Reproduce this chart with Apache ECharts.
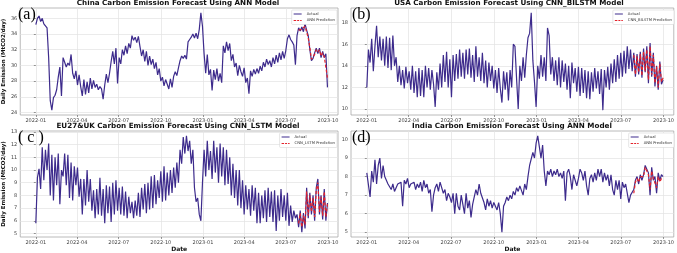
<!DOCTYPE html>
<html>
<head>
<meta charset="utf-8">
<style>
  html, body { margin: 0; padding: 0; background: #fff; }
  #chart { width: 677px; height: 253px; }
</style>
<script src="https://cdn.jsdelivr.net/npm/echarts@6.0.0/dist/echarts.min.js"></script>
</head>
<body>
<div id="chart"></div>
<script>
// daily series, one value every 3.5 days from 2022-01-01
const START = Date.UTC(2022, 0, 1);
const STEP_DAYS = 3.5;
const DAY = 86400000;
const predStart = 164; // index where the forecast begins (end of July 2023)

const tickLabels = ["2022-01", "2022-04", "2022-07", "2022-10", "2023-01", "2023-04", "2023-07", "2023-10"];

const chinaActual = [
  35.2, 36.0, 36.3, 35.6, 36.0, 35.3, 35.1, 34.8, 31.0, 25.5,
  24.3, 25.9, 26.2, 26.9, 28.5, 29.8, 26.1, 31.0, 30.4, 29.8,
  30.3, 30.0, 31.4, 29.0, 28.3, 29.3, 27.5, 28.8, 27.3, 26.1,
  28.2, 26.3, 27.9, 26.5, 28.4, 27.0, 28.1, 27.2, 27.6, 26.9,
  27.3, 27.0, 25.7, 27.5, 28.9, 27.8, 29.0, 30.5, 31.8, 30.2,
  32.2, 27.7, 31.0, 30.2, 32.0, 31.3, 32.5, 31.5, 32.8, 32.2,
  33.8, 33.2, 33.6, 32.9, 33.7, 32.4, 31.2, 32.0, 30.5, 31.8,
  30.0, 31.2, 30.1, 30.8, 29.6, 30.4, 28.8, 29.6, 28.0, 28.5,
  27.4, 28.2, 27.6, 27.0, 28.3, 27.2, 28.6, 29.2, 28.7, 29.7,
  30.6, 31.2, 30.9, 31.3, 30.8, 33.0, 33.3, 33.6, 34.0, 33.5,
  34.1, 33.4, 34.6, 36.7, 35.0, 31.5, 29.0, 31.4, 28.8, 29.5,
  26.8, 29.4, 28.2, 29.6, 28.0, 29.0, 27.8, 32.5, 31.6, 33.0,
  31.9, 32.8, 30.6, 31.4, 29.8, 30.3, 28.7, 30.0, 29.2, 28.6,
  29.7, 27.8, 28.4, 26.4, 29.3, 28.6, 29.5, 28.9, 29.6, 29.0,
  29.9, 29.3, 30.4, 29.8, 30.8, 30.1, 30.6, 29.8, 31.0, 30.2,
  31.3, 30.4, 31.6, 30.7, 31.8, 30.9, 31.9, 33.4, 33.9, 33.3,
  33.0, 32.6, 30.1, 33.8, 34.8, 34.4, 34.9, 34.3, 35.3, 34.5,
  33.8, 32.0, 30.6, 30.9, 31.6, 32.2, 31.5, 32.2, 31.0, 31.8,
  31.0, 31.5, 27.2
];
const chinaPred = [
  34.5, 34.7, 34.6, 34.6, 35.0, 34.8, 33.5, 32.3, 30.8, 31.0,
  31.4, 32.0, 31.7, 32.0, 31.2, 31.6, 31.1, 31.3, 28.4
];

const usaActual = [
  12.0, 15.5, 14.3, 16.5, 13.5, 15.8, 17.7, 14.8, 16.7, 14.5,
  16.5, 14.0, 16.7, 13.8, 16.6, 13.6, 16.8, 14.0, 14.8, 12.5,
  14.0, 12.2, 13.6, 11.9, 13.9, 12.4, 13.5, 11.8, 14.0, 11.5,
  13.5, 11.1, 13.8, 11.2, 13.6, 11.1, 14.0, 12.0, 13.8, 11.8,
  13.6, 12.3, 10.2, 13.4, 11.8, 14.2, 12.0, 15.0, 12.5, 15.3,
  12.0, 14.6, 11.1, 15.0, 12.6, 15.1, 12.8, 15.5, 13.0, 15.2,
  12.8, 15.5, 13.2, 15.6, 12.9, 15.0, 12.5, 15.8, 13.0, 14.8,
  12.6, 15.2, 12.4, 14.5, 12.0, 14.3, 12.6, 14.0, 11.9, 13.6,
  11.5, 13.8, 11.9, 10.6, 13.5, 11.8, 13.4, 10.8, 13.6, 12.0,
  16.0, 15.8, 12.8, 10.0, 14.0, 12.6, 14.8, 12.9, 15.0, 16.6,
  17.0, 18.9, 14.5, 12.5, 10.2, 14.0, 12.8, 15.0, 13.0, 14.8,
  12.6, 17.5, 16.8, 13.2, 14.8, 12.6, 14.5, 12.2, 14.8, 12.0,
  14.5, 12.5, 14.2, 11.8, 14.0, 11.0, 14.3, 12.4, 13.8, 11.6,
  13.9, 11.2, 13.8, 11.5, 13.6, 11.0, 13.5, 10.9, 13.4, 11.6,
  13.8, 11.9, 13.5, 11.4, 13.7, 9.9, 13.6, 12.0, 13.9, 11.8,
  14.2, 12.4, 14.6, 12.5, 15.0, 12.8, 15.2, 13.0, 15.4, 13.3,
  15.8, 13.7, 15.5, 13.5, 15.2, 13.0, 15.1, 13.2, 15.3, 12.9,
  15.6, 13.4, 15.8, 12.4, 16.1, 13.0, 15.2, 12.1, 14.0, 11.8,
  14.4, 12.3, 12.7
];
const usaPred = [
  15.0, 13.2, 14.9, 13.4, 15.1, 13.1, 15.3, 13.5, 15.5, 12.7,
  15.8, 13.2, 15.0, 12.4, 13.9, 12.0, 14.2, 12.5, 12.9
];

const euActual = [
  5.8, 9.4, 10.1, 8.5, 11.8, 9.2, 11.6, 10.0, 12.1, 8.0,
  11.2, 7.6, 11.0, 8.8, 11.3, 7.3, 10.0, 9.5, 11.3, 8.8,
  11.2, 7.8, 10.6, 7.6, 10.3, 8.8, 10.2, 7.9, 9.3, 6.5,
  9.3, 7.2, 10.0, 7.5, 9.3, 6.8, 8.4, 6.2, 8.5, 6.5,
  9.4, 6.4, 8.5, 5.8, 8.8, 6.6, 8.7, 5.9, 9.0, 6.5,
  9.2, 6.8, 8.6, 6.5, 8.7, 6.4, 8.3, 6.2, 7.9, 6.6,
  7.5, 6.2, 7.6, 6.4, 8.2, 6.3, 8.6, 6.9, 8.9, 6.6,
  9.0, 6.9, 9.5, 7.0, 9.6, 7.3, 9.2, 7.8, 9.9, 7.5,
  10.3, 7.6, 9.8, 8.0, 10.0, 8.2, 10.2, 8.6, 10.6, 9.0,
  11.6, 10.5, 12.6, 11.3, 12.7, 11.5, 12.3, 10.5, 11.6, 8.6,
  7.5, 7.8, 6.5, 6.0, 9.0, 11.6, 9.5, 12.3, 10.0, 11.5,
  9.3, 12.3, 9.8, 11.8, 9.0, 12.1, 9.5, 11.8, 8.8, 11.6,
  8.9, 11.0, 8.0, 10.5, 7.8, 10.0, 7.2, 10.0, 7.0, 9.2,
  6.5, 8.8, 6.9, 8.5, 6.4, 8.8, 6.8, 8.6, 5.8, 8.2,
  5.8, 8.0, 6.2, 8.4, 5.9, 8.6, 6.3, 8.3, 5.9, 8.4,
  5.2, 8.0, 6.0, 8.5, 6.3, 8.0, 6.0, 8.2, 5.6, 7.2,
  5.9, 6.8, 6.2, 6.5, 5.5, 6.8, 5.1, 6.6, 5.4, 8.6,
  6.2, 8.2, 6.5, 8.0, 6.0, 8.6, 9.3, 6.5, 8.0, 6.1,
  8.5, 6.0, 7.4
];
const euPred = [
  5.8, 6.6, 5.5, 6.4, 5.7, 8.3, 6.4, 8.0, 6.7, 7.8,
  6.3, 8.4, 9.0, 6.7, 7.9, 6.4, 8.3, 6.3, 7.3
];

const indiaActual = [
  8.2, 8.3, 6.9, 8.3, 7.7, 8.9, 7.6, 8.6, 9.0, 7.9,
  8.6, 8.0, 7.9, 7.6, 7.5, 7.3, 7.6, 7.2, 7.4, 7.6,
  7.5, 7.7, 6.4, 7.8, 7.6, 7.9, 7.4, 7.6, 7.5, 7.7,
  7.3, 7.6, 7.4, 7.7, 7.2, 7.8, 7.4, 7.6, 7.1, 7.3,
  6.1, 7.0, 7.4, 7.6, 7.2, 7.7, 7.8, 7.1, 7.3, 6.7,
  7.1, 6.9, 6.6, 7.1, 6.0, 7.1, 6.4, 6.2, 7.0, 6.5,
  6.0, 7.1, 6.3, 6.7, 5.8, 6.5, 6.9, 7.3, 7.0, 7.6,
  7.1, 7.0, 6.6, 6.2, 6.8, 6.4, 6.7, 6.3, 6.6, 6.5,
  6.2, 6.6, 6.0, 5.0, 6.4, 6.6, 6.9, 6.7, 7.0, 6.8,
  7.2, 7.0, 7.4, 7.2, 7.5, 7.4, 7.0, 7.6, 7.3, 8.0,
  8.6, 8.5, 9.3, 9.0, 9.8, 10.2, 9.6, 9.0, 9.7, 8.3,
  7.5, 8.3, 8.1, 8.4, 8.0, 8.3, 8.1, 8.4, 8.0, 8.2,
  7.9, 8.3, 6.7, 8.2, 8.4, 8.0, 7.3, 8.1, 8.0, 7.5,
  7.9, 8.4, 8.2, 7.8, 8.3, 7.5, 7.0, 7.9, 8.1, 7.7,
  8.2, 7.8, 8.4, 8.0, 8.4, 7.7, 8.2, 7.8, 8.1, 7.5,
  8.1, 7.3, 7.0, 7.8, 7.3, 7.8, 6.8, 7.7, 7.4, 7.6,
  7.5, 6.6, 7.0, 6.9, 7.3, 7.8, 8.0, 7.6, 8.1, 7.8,
  8.1, 8.6, 8.5, 8.2, 7.0, 8.5, 7.8, 8.0, 7.1, 8.2,
  7.8, 8.1, 8.0
];
const indiaPred = [
  7.1, 7.7, 7.9, 7.7, 8.0, 7.9, 8.0, 8.5, 8.6, 8.1,
  7.3, 8.3, 7.9, 7.8, 7.4, 8.0, 7.7, 7.9, 7.9
];

const chinaTicks = [24, 26, 28, 30, 32, 34, 36];
const usaTicks = [10, 12, 14, 16, 18];
const euTicks = [5, 6, 7, 8, 9, 10, 11, 12, 13];
const indiaTicks = [5, 6, 7, 8, 9, 10];

const panels = [
  { title: "China Carbon Emission Forecast Using ANN Model", tag: "(a)", actual: chinaActual, pred: chinaPred, predName: "ANN Prediction", ticks: chinaTicks, min: 23.68, max: 37.32 },
  { title: "USA Carbon Emission Forecast Using CNN_BILSTM Model", tag: "(b)", actual: usaActual, pred: usaPred, predName: "CNN_BILSTM Prediction", ticks: usaTicks, min: 9.45, max: 19.35 },
  { title: "EU27&UK Carbon Emission Forecast Using CNN_LSTM Model", tag: "( c )", actual: euActual, pred: euPred, predName: "CNN_LSTM Prediction", ticks: euTicks, min: 4.72, max: 13.08 },
  { title: "India Carbon Emission Forecast Using ANN Model", tag: "(d)", actual: indiaActual, pred: indiaPred, predName: "ANN Prediction", ticks: indiaTicks, min: 4.74, max: 10.46 }
];

// layout of the 2x2 figure
const boxes = [
  { left: 17, top: 8, width: 321, height: 107, titleX: 178, titleY: -0.5, legendRight: 340, legendTop: 10 },
  { left: 351, top: 8, width: 324, height: 107, titleX: 509, titleY: -0.5, legendRight: 3, legendTop: 10 },
  { left: 17, top: 131, width: 321, height: 107, titleX: 178, titleY: 123, legendRight: 340, legendTop: 133 },
  { left: 351, top: 131, width: 324, height: 107, titleX: 512, titleY: 123, legendRight: 3, legendTop: 133 }
];

// x is counted in days since 2022-01-01
const tickDays = tickLabels.map((s) => {
  const [y, m] = s.split("-").map(Number);
  return (Date.UTC(y, m - 1, 1) - START) / DAY;
});
const xDay = (i) => i * STEP_DAYS;

const ACTUAL_COLOR = "#3d2b8c";
const PRED_COLOR = "#e3232b";
const FONT = "DejaVu Sans";
const SOLID_ICON = "path://M0,0h16v2h-16z";
const DASH_ICON = "path://M0,0h5v2h-5z M7,0h4v2h-4z M13,0h3v2h-3z";

const chart = echarts.init(document.getElementById("chart"), null, { renderer: "canvas" });

const option = {
  animation: false,
  backgroundColor: "#fff",
  textStyle: { fontFamily: FONT },
  title: [],
  legend: [],
  grid: [],
  xAxis: [],
  yAxis: [],
  series: [],
  graphic: []
};

panels.forEach((p, k) => {
  const b = boxes[k];
  const isLeft = k % 2 === 0;
  const isBottom = k >= 2;

  option.title.push({
    text: p.title,
    left: b.titleX,
    top: b.titleY,
    textAlign: "center",
    padding: 0,
    textStyle: { fontFamily: FONT, fontSize: 7.2, fontWeight: "bold", color: "#111" }
  });

  option.grid.push({
    left: b.left, top: b.top, width: b.width, height: b.height,
    show: true, borderColor: "#a8a8a8", borderWidth: 0.8, backgroundColor: "#fff"
  });

  option.xAxis.push({
    type: "value",
    gridIndex: k,
    min: -34,
    max: 660,
    name: isBottom ? "Date" : "",
    nameLocation: "middle",
    nameGap: 9,
    nameTextStyle: { fontFamily: FONT, fontSize: 6, fontWeight: "bold", color: "#111" },
    axisLine: { show: false },
    axisTick: { show: true, length: 2, lineStyle: { color: "#555", width: 0.6 }, customValues: tickDays },
    axisLabel: {
      customValues: tickDays,
      fontSize: 5, color: "#444", margin: 3,
      formatter: (v) => {
        const j = tickDays.indexOf(v);
        return j >= 0 ? tickLabels[j] : "";
      }
    },
    splitLine: { show: true, lineStyle: { color: "#e2e2e2", width: 0.7 } }
  });

  option.yAxis.push({
    type: "value",
    gridIndex: k,
    min: p.min,
    max: p.max,
    name: isLeft ? "Daily Emission (MtCO2/day)" : "",
    nameLocation: "middle",
    nameGap: 11,
    nameTextStyle: { fontFamily: FONT, fontSize: 5.5, fontWeight: "bold", color: "#111" },
    axisLine: { show: false },
    axisTick: { show: true, length: 2, lineStyle: { color: "#555", width: 0.6 }, customValues: p.ticks },
    axisLabel: { customValues: p.ticks, fontSize: 5, color: "#444", margin: 3 },
    splitLine: { show: true, lineStyle: { color: "#e2e2e2", width: 0.7 } }
  });

  option.series.push({
    name: "Actual",
    type: "line",
    xAxisIndex: k,
    yAxisIndex: k,
    data: p.actual.map((v, i) => [xDay(i), v]),
    showSymbol: false,
    symbol: "none",
    lineStyle: { color: ACTUAL_COLOR, width: 1.2 },
    itemStyle: { color: ACTUAL_COLOR },
    z: 2
  });
  option.series.push({
    name: p.predName,
    type: "line",
    xAxisIndex: k,
    yAxisIndex: k,
    data: p.pred.map((v, i) => [xDay(predStart + i), v]),
    showSymbol: false,
    symbol: "none",
    lineStyle: { color: PRED_COLOR, width: 1.2, type: [3, 2] },
    itemStyle: { color: PRED_COLOR },
    z: 3
  });

  option.legend.push({
    right: b.legendRight,
    top: b.legendTop,
    orient: "vertical",
    data: [
      { name: "Actual", icon: SOLID_ICON, itemStyle: { color: ACTUAL_COLOR, borderWidth: 0 } },
      { name: p.predName, icon: DASH_ICON, itemStyle: { color: PRED_COLOR, borderWidth: 0 } }
    ],
    itemWidth: 8,
    itemHeight: 1,
    itemGap: 2.5,
    padding: [2, 2],
    borderColor: "#cfcfcf",
    borderWidth: 0.5,
    borderRadius: 1,
    backgroundColor: "#fff",
    selectedMode: false,
    textStyle: { fontFamily: FONT, fontSize: 3.8, color: "#333" }
  });

  option.graphic.push({
    type: "text",
    left: b.left + 1,
    top: b.top - 1,
    z: 100,
    style: { text: p.tag, font: '16px "Liberation Serif"', fill: "#000" }
  });
});

chart.setOption(option);
window.addEventListener("resize", () => chart.resize());
</script>
</body>
</html>
